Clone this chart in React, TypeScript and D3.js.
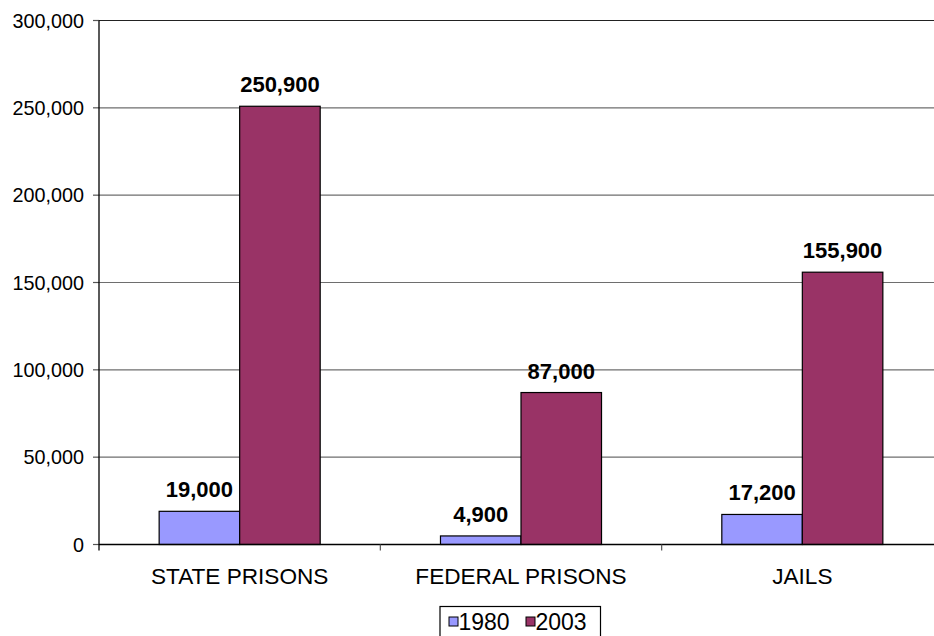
import React from "react";
import * as d3 from "d3";

const categories = ["STATE PRISONS", "FEDERAL PRISONS", "JAILS"];
const seriesNames = ["1980", "2003"];
const values1980 = [19000, 4900, 17200];
const values2003 = [250900, 87000, 155900];
const yTicks = [0, 50000, 100000, 150000, 200000, 250000, 300000];
const colors = ["#9999FF", "#993366"];

const W = 934;
const H = 636;
const left = 99;
const right = 943;
const top = 20.5;
const bottom = 544.5;
const font = "Arial, 'Liberation Sans', sans-serif";

export default function App() {
  const x = d3.scaleBand<string>().domain(categories).range([left, right]).paddingInner(0).paddingOuter(0);
  const inner = d3.scaleBand<string>().domain(seriesNames).range([0, x.bandwidth()]).paddingInner(0).paddingOuter(0.747);
  const y = d3.scaleLinear().domain([0, 300000]).range([bottom, top]);
  const fmt = d3.format(",");
  const series = [values1980, values2003];

  return (
    <svg width={W} height={H} style={{ position: "absolute", left: 0, top: 0, background: "#fff" }} fontFamily={font}>
      {yTicks.filter((t) => t > 0).map((t) => (
        <line key={"g" + t} x1={left} x2={W} y1={y(t)} y2={y(t)} stroke={t === 300000 ? "#222" : "#6e6e6e"} strokeWidth={1.2} />
      ))}
      {yTicks.map((t) => (
        <g key={"t" + t}>
          <line x1={left - 6} x2={left} y1={y(t)} y2={y(t)} stroke="#555" strokeWidth={1.2} />
          <text x={84} y={y(t) + 7} textAnchor="end" fontSize={19.8} fill="#000">
            {fmt(t)}
          </text>
        </g>
      ))}
      {categories.map((c, ci) =>
        series.map((vals, si) => {
          const bx = (x(c) as number) + (inner(seriesNames[si]) as number);
          const bw = inner.bandwidth();
          return (
            <g key={c + si}>
              <rect x={bx} y={y(vals[ci])} width={bw} height={bottom - y(vals[ci])} fill={colors[si]} stroke="#000" strokeWidth={1.2} />
              <text x={bx + bw / 2} y={y(vals[ci]) - 14} textAnchor="middle" fontSize={22} fontWeight="bold" fill="#000">
                {fmt(vals[ci])}
              </text>
            </g>
          );
        })
      )}
      <line x1={left} x2={left} y1={top} y2={bottom + 6} stroke="#000" strokeWidth={1.3} />
      <line x1={left} x2={W} y1={bottom} y2={bottom} stroke="#000" strokeWidth={1.3} />
      {categories.map((c) => (
        <line key={"xt" + c} x1={(x(c) as number) + x.bandwidth()} x2={(x(c) as number) + x.bandwidth()} y1={bottom} y2={bottom + 6} stroke="#555" strokeWidth={1.2} />
      ))}
      {categories.map((c) => (
        <text key={"xl" + c} x={(x(c) as number) + x.bandwidth() / 2} y={583.5} textAnchor="middle" fontSize={22.6} fill="#000">
          {c}
        </text>
      ))}
      <rect x={440} y={606.5} width={160.5} height={40} fill="#fff" stroke="#000" strokeWidth={1.2} />
      {seriesNames.map((s, i) => (
        <g key={"lg" + s}>
          <rect x={449 + i * 77} y={617} width={9} height={9} fill={colors[i]} stroke="#000" strokeWidth={1} />
          <text x={458.5 + i * 77} y={629.5} fontSize={23} fill="#000">
            {s}
          </text>
        </g>
      ))}
    </svg>
  );
}
